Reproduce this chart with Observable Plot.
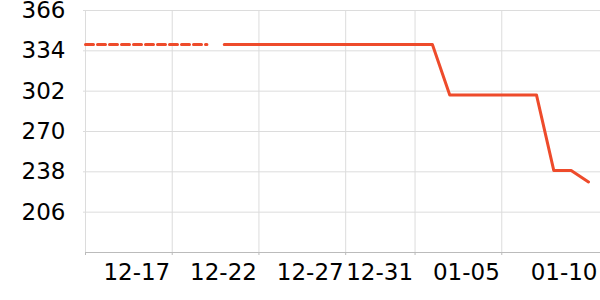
<!DOCTYPE html>
<html><head><meta charset="utf-8">
<script src="https://cdn.jsdelivr.net/npm/d3@7"></script>
<script src="https://cdn.jsdelivr.net/npm/@observablehq/plot@0.6"></script>
<style>body{margin:0;background:#fff}#chart svg{display:block}</style>
</head><body><div id="chart"></div>
<script>
const dashedDates = ["2023-12-12","2023-12-13","2023-12-14","2023-12-15","2023-12-16","2023-12-17","2023-12-18","2023-12-19"];
const dashedValues = [339,339,339,339,339,339,339,339];
const solidDates = ["2023-12-20","2023-12-21","2023-12-22","2023-12-23","2023-12-24","2023-12-25","2023-12-26","2023-12-27","2023-12-28","2023-12-29","2023-12-30","2023-12-31","2024-01-01","2024-01-02","2024-01-03","2024-01-04","2024-01-05","2024-01-06","2024-01-07","2024-01-08","2024-01-09","2024-01-10"];
const solidValues = [339,339,339,339,339,339,339,339,339,339,339,339,339,299,299,299,299,299,299,239,239,230];
const yTicks = [206,238,270,302,334,366];
const gridDates = ["2023-12-12","2023-12-17","2023-12-22","2023-12-27","2023-12-31","2024-01-05"];
const labelDates = ["2023-12-17","2023-12-22","2023-12-27","2023-12-31","2024-01-05"];
const lastLabelDate = "2024-01-10";
const fmt = d3.utcFormat("%m-%d");

const dashed = dashedDates.map((d,i)=>({date:new Date(d), value:dashedValues[i]}));
const solid = solidDates.map((d,i)=>({date:new Date(d), value:solidValues[i]}));
const color = "#ee4b2b";

const chart = Plot.plot({
  width: 600, height: 300,
  marginLeft: 85, marginRight: 0, marginTop: 10, marginBottom: 48,
  style: {fontFamily: "DejaVu Sans", fontSize: "23px", color: "#000", background: "#fff"},
  x: {type: "utc", domain: [new Date("2023-12-12"), new Date("2024-01-10")], range: [85, 588]},
  y: {domain: [174, 366]},
  marks: [
    Plot.gridY(yTicks, {stroke: "#dcdcdc", strokeOpacity: 1}),
    Plot.gridX(gridDates.map(d=>new Date(d)), {stroke: "#dcdcdc", strokeOpacity: 1}),
    Plot.ruleY([174], {stroke: "#bbb"}),
    Plot.axisY(yTicks, {tickSize: 2, tickPadding: 18, stroke: "#dcdcdc", fontSize: 23, fill: "#000", label: null}),
    Plot.axisX(gridDates.map(d=>new Date(d)), {tickSize: 3, tickFormat: () => "", stroke: "#bbb", label: null}),
    Plot.axisX(labelDates.map(d=>new Date(d)), {tickSize: 0, tickPadding: 11, tickFormat: fmt, textAnchor: "end", dx: -2, fontSize: 23, fill: "#000", label: null}),
    Plot.axisX([new Date(lastLabelDate)], {tickSize: 0, tickPadding: 11, tickFormat: fmt, textAnchor: "end", dx: 9, fontSize: 23, fill: "#000", label: null}),
    Plot.line(dashed, {x: "date", y: "value", stroke: color, strokeWidth: 3, strokeDasharray: "8,4"}),
    Plot.line(solid, {x: "date", y: "value", stroke: color, strokeWidth: 3})
  ]
});
document.getElementById("chart").append(chart);
</script>
</body></html>
